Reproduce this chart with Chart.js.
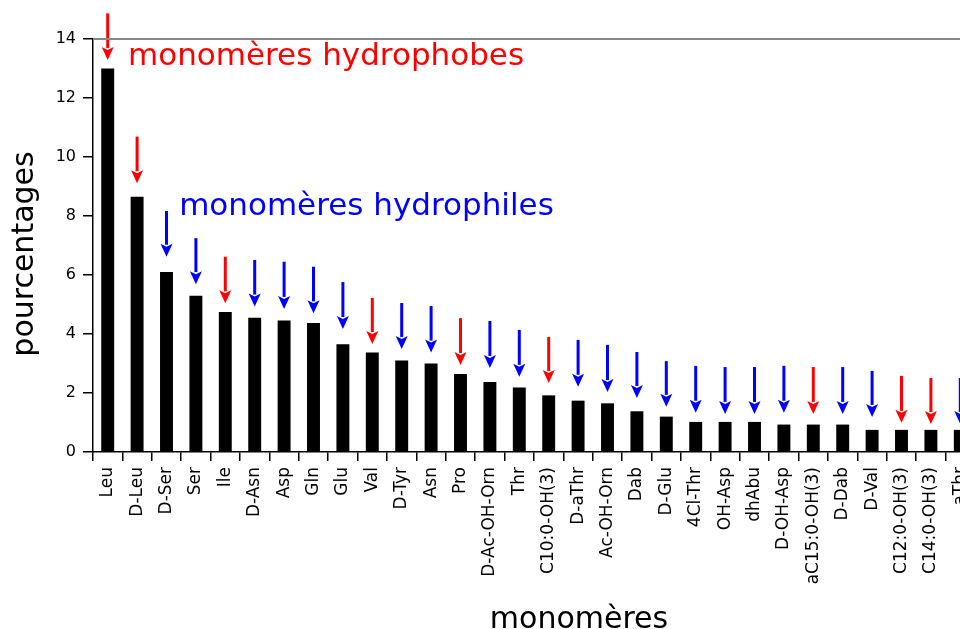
<!DOCTYPE html>
<html>
<head>
<meta charset="utf-8">
<title>monomères</title>
<script src="https://cdn.jsdelivr.net/npm/chart.js@4/dist/chart.umd.min.js"></script>
<style>
    html, body { margin: 0; padding: 0; overflow: hidden; background: #fff; }
    #wrap { width: 960px; height: 629px; overflow: hidden; }
</style>
</head>
<body>
<div id="wrap"><canvas id="chart" width="975" height="629"></canvas></div>
<script>
// Monomer frequencies (%), sorted from most to least frequent
const monomers = ['Leu', 'D-Leu', 'D-Ser', 'Ser', 'Ile', 'D-Asn', 'Asp', 'Gln', 'Glu', 'Val',
    'D-Tyr', 'Asn', 'Pro', 'D-Ac-OH-Orn', 'Thr', 'C10:0-OH(3)', 'D-aThr', 'Ac-OH-Orn', 'Dab', 'D-Glu',
    '4Cl-Thr', 'OH-Asp', 'dhAbu', 'D-OH-Asp', 'aC15:0-OH(3)', 'D-Dab', 'D-Val', 'C12:0-OH(3)', 'C14:0-OH(3)', 'aThr'];
const percentages = [13.0, 8.65, 6.1, 5.3, 4.75, 4.55, 4.46, 4.37, 3.65, 3.37,
    3.1, 3.0, 2.64, 2.37, 2.19, 1.92, 1.74, 1.65, 1.38, 1.2,
    1.02, 1.02, 1.02, 0.93, 0.93, 0.93, 0.75, 0.75, 0.75, 0.75];
const hydrophobic = [true, true, false, false, true, false, false, false, false, true,
    false, false, true, false, false, true, false, false, false, false,
    false, false, false, false, true, false, false, true, true, false];

// Arrow above each bar: tail and tip in percent units
const arrowTail = [14.87, 10.69, 8.17, 7.25, 6.62, 6.51, 6.45, 6.28, 5.76, 5.22,
    5.05, 4.95, 4.54, 4.44, 4.14, 3.90, 3.80, 3.63, 3.39, 3.08,
    2.92, 2.88, 2.88, 2.92, 2.88, 2.88, 2.75, 2.58, 2.51, 2.51];
const arrowTip = [13.29, 9.11, 6.62, 5.69, 5.04, 4.93, 4.85, 4.70, 4.17, 3.66,
    3.49, 3.37, 2.95, 2.85, 2.55, 2.34, 2.21, 2.03, 1.83, 1.53,
    1.33, 1.29, 1.29, 1.33, 1.29, 1.29, 1.19, 0.99, 0.95, 0.95];

const yTickValues = [0, 2, 4, 6, 8, 10, 12, 14];

const FONT = "'DejaVu Sans', sans-serif";
const RED = '#ff0000';
const BLUE = '#0000ff';

// text labels placed in data coordinates (category index, percent)
const legendNotes = [
    { text: 'monomères hydrophobes', color: RED, x: 0.69, y: 13.12 },
    { text: 'monomères hydrophiles', color: BLUE, x: 2.43, y: 8.03 }
];

const decorations = {
    id: 'decorations',
    afterDatasetsDraw(chart) {
        const { ctx, chartArea, scales: { x, y } } = chart;
        ctx.save();

        // arrows
        monomers.forEach((m, i) => {
            const cx = x.getPixelForValue(i);
            const yTail = y.getPixelForValue(arrowTail[i]);
            const yTip = y.getPixelForValue(arrowTip[i]);
            const color = hydrophobic[i] ? RED : BLUE;
            const headH = 13, headW = 12;
            ctx.strokeStyle = color;
            ctx.fillStyle = color;
            ctx.lineWidth = 3;
            ctx.beginPath();
            ctx.moveTo(cx, yTail);
            ctx.lineTo(cx, yTip - headH + 1);
            ctx.stroke();
            ctx.beginPath();
            ctx.moveTo(cx, yTip);
            ctx.lineTo(cx - headW / 2, yTip - headH);
            ctx.lineTo(cx, yTip - headH + 3);
            ctx.lineTo(cx + headW / 2, yTip - headH);
            ctx.closePath();
            ctx.fill();
        });

        // group notes
        ctx.font = '31px ' + FONT;
        ctx.textBaseline = 'alphabetic';
        ctx.textAlign = 'left';
        legendNotes.forEach(n => {
            const px = x.getPixelForValue(0) + n.x * (x.getPixelForValue(1) - x.getPixelForValue(0));
            ctx.fillStyle = n.color;
            ctx.fillText(n.text, px, y.getPixelForValue(n.y));
        });

        // top frame line
        ctx.strokeStyle = '#888888';
        ctx.lineWidth = 2;
        ctx.beginPath();
        ctx.moveTo(chartArea.left, chartArea.top);
        ctx.lineTo(chartArea.right, chartArea.top);
        ctx.stroke();

        // axis titles
        ctx.fillStyle = '#000';
        ctx.font = '30px ' + FONT;
        ctx.textAlign = 'center';
        ctx.fillText('monomères', 579, 628);
        ctx.translate(33, 254);
        ctx.rotate(-Math.PI / 2);
        ctx.fillText('pourcentages', 0, 0);

        ctx.restore();
    }
};

new Chart(document.getElementById('chart'), {
    type: 'bar',
    data: {
        labels: monomers,
        datasets: [{
            data: percentages,
            backgroundColor: '#000',
            borderWidth: 0,
            barPercentage: 0.44,
            categoryPercentage: 1.0
        }]
    },
    options: {
        responsive: false,
        animation: false,
        events: [],
        layout: { padding: { top: 39, left: 0, right: 0, bottom: 0 } },
        plugins: {
            legend: { display: false },
            tooltip: { enabled: false }
        },
        scales: {
            x: {
                offset: true,
                grid: {
                    offset: true,
                    drawOnChartArea: false,
                    drawTicks: true,
                    tickLength: 9,
                    color: '#000',
                    lineWidth: 1.5
                },
                border: { color: '#000', width: 1.5 },
                ticks: {
                    autoSkip: false,
                    maxRotation: 90,
                    minRotation: 90,
                    padding: 6,
                    color: '#000',
                    font: { family: FONT, size: 17 }
                },
                afterFit(scale) {
                    scale.height = 177;
                    scale.paddingLeft = 0;
                    scale.paddingRight = 0;
                }
            },
            y: {
                min: 0,
                max: 14,
                afterBuildTicks(scale) { scale.ticks = yTickValues.map(v => ({ value: v })); },
                grid: {
                    drawOnChartArea: false,
                    drawTicks: true,
                    tickLength: 10,
                    color: '#000',
                    lineWidth: 1.5
                },
                border: { color: '#000', width: 1.5 },
                ticks: {
                    padding: 7,
                    color: '#000',
                    font: { family: FONT, size: 16 }
                },
                afterFit(scale) {
                    scale.width = 93;
                    scale.paddingTop = 0;
                    scale.paddingBottom = 0;
                }
            }
        }
    },
    plugins: [decorations]
});
</script>
</body>
</html>
